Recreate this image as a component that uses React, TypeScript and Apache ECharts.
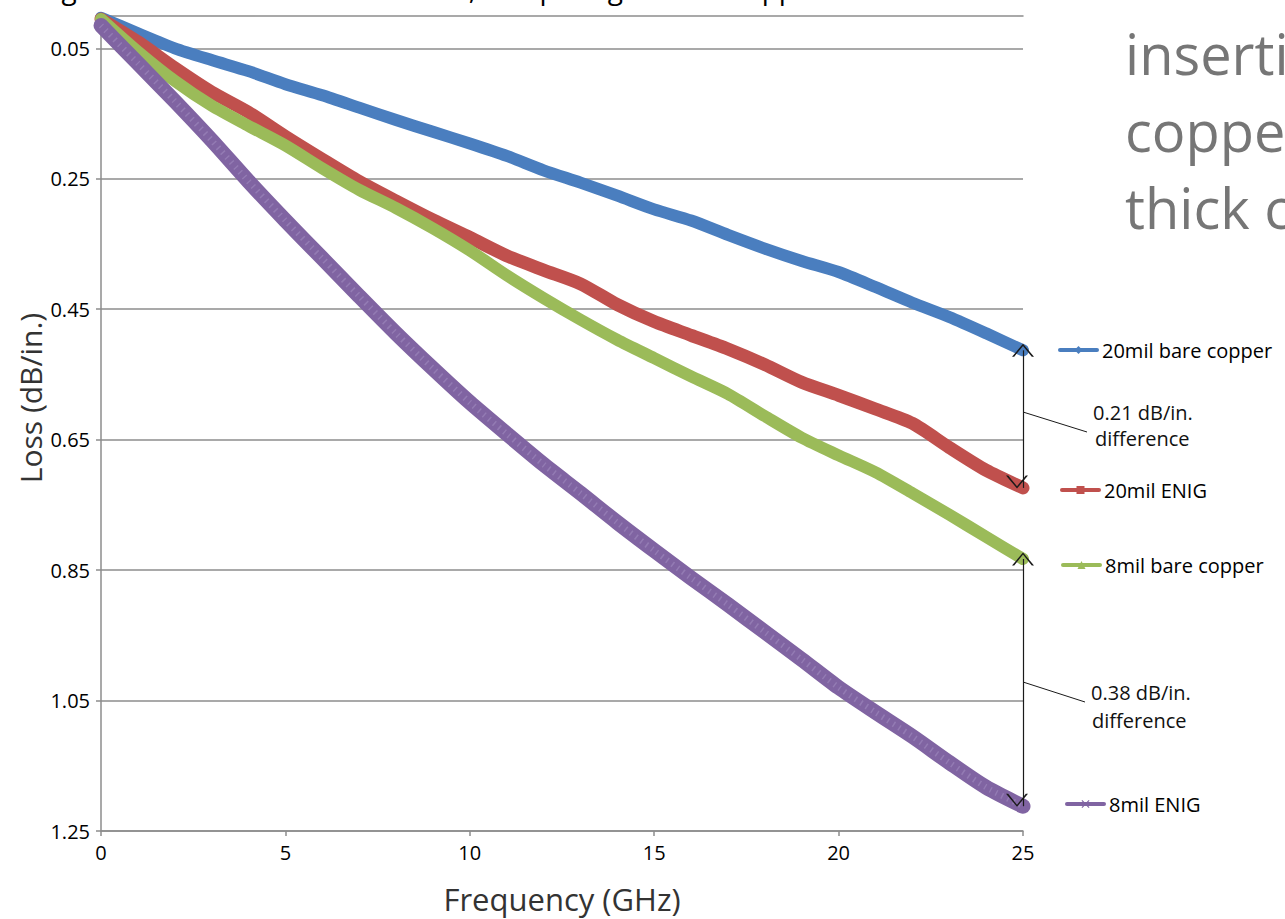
import { useEffect, useRef } from "react";
import * as echarts from "echarts";

// Frequency sweep (GHz) and per-inch loss (dB/in.) for each trace type
const FREQ_GHZ = [0, 1, 2, 3, 4, 5, 6, 7, 8, 9, 10, 11, 12, 13, 14, 15, 16, 17, 18, 19, 20, 21, 22, 23, 24, 25];
const BARE_20MIL = [0.003, 0.027, 0.05, 0.068, 0.085, 0.105, 0.122, 0.141, 0.16, 0.178, 0.196, 0.215, 0.237, 0.256, 0.276, 0.297, 0.314, 0.336, 0.357, 0.376, 0.393, 0.416, 0.44, 0.462, 0.487, 0.513];
const ENIG_20MIL = [0.005, 0.04, 0.08, 0.117, 0.148, 0.185, 0.22, 0.254, 0.284, 0.313, 0.34, 0.368, 0.39, 0.411, 0.443, 0.469, 0.49, 0.511, 0.535, 0.562, 0.582, 0.603, 0.625, 0.662, 0.697, 0.724];
const BARE_8MIL = [0.005, 0.055, 0.1, 0.138, 0.169, 0.199, 0.234, 0.267, 0.295, 0.326, 0.36, 0.398, 0.433, 0.466, 0.497, 0.525, 0.553, 0.58, 0.614, 0.647, 0.674, 0.7, 0.732, 0.765, 0.799, 0.833];
const ENIG_8MIL = [0.015, 0.073, 0.131, 0.191, 0.254, 0.314, 0.372, 0.43, 0.487, 0.541, 0.593, 0.641, 0.688, 0.732, 0.777, 0.82, 0.862, 0.903, 0.945, 0.987, 1.03, 1.068, 1.105, 1.145, 1.183, 1.212];

const SERIES_NAMES = ["20mil bare copper", "20mil ENIG", "8mil bare copper", "8mil ENIG"];
const Y_TICKS = [0.05, 0.25, 0.45, 0.65, 0.85, 1.05, 1.25];
const X_TICKS_STEP = 5;

const FONT = '"Open Sans", "Noto Sans", sans-serif';
const GRID_GRAY = "#8c8c8c";
const COLORS = ["#4a7ebf", "#c0504d", "#9bbb59", "#8064a2"];
const WIDTHS = [12, 13, 12, 15];

// thin open "V" arrow head, tip pointing up
const ARROW_HEAD = "path://M5,0 L10,10 L9,10 L5,1.6 L1,10 L0,10 Z";
const DIAMOND = "path://M5,0 L10,5 L5,10 L0,5 Z";
const CROSS = "path://M0,1 L1,0 L5,4 L9,0 L10,1 L6,5 L10,9 L9,10 L5,6 L1,10 L0,9 L4,5 Z";
const SYMBOLS = [DIAMOND, "rect", "triangle", CROSS];

const last = (a: number[]) => a[a.length - 1];

export default function App() {
  const ref = useRef<HTMLDivElement>(null);

  useEffect(() => {
    if (!ref.current) return;
    const chart = echarts.init(ref.current, null, { renderer: "svg" });

    const seriesValues = [BARE_20MIL, ENIG_20MIL, BARE_8MIL, ENIG_8MIL];
    const diff20 = (last(ENIG_20MIL) - last(BARE_20MIL)).toFixed(2);
    const diff8 = (last(ENIG_8MIL) - last(BARE_8MIL)).toFixed(2);
    const xEnd = last(FREQ_GHZ);

    const legendPlace = [
      { left: 1058, cy: 352 },
      { left: 1060, cy: 492 },
      { left: 1061, cy: 567 },
      { left: 1065, cy: 806 },
    ];

    const series: any[] = seriesValues.map((vals, i) => ({
      name: SERIES_NAMES[i],
      type: "line",
      data: FREQ_GHZ.map((f, k) => [f, vals[k]]),
      symbol: SYMBOLS[i],
      symbolSize: 9,
      showSymbol: false,
      smooth: 0.25,
      clip: false,
      color: COLORS[i],
      lineStyle: { width: WIDTHS[i], color: COLORS[i], cap: "round", join: "round" },
      emphasis: { disabled: true },
      silent: true,
    }));

    // faint streaks left by the dense "x" markers of the 8mil ENIG trace
    series.push({
      name: SERIES_NAMES[3],
      type: "line",
      data: FREQ_GHZ.map((f, k) => [f, ENIG_8MIL[k]]),
      showSymbol: false,
      smooth: 0.25,
      clip: false,
      lineStyle: { width: 6, color: "rgba(205,190,230,0.25)", type: [1.5, 5], cap: "butt" },
      emphasis: { disabled: true },
      silent: true,
    });

    // double-headed arrows marking the end-point differences
    series[0].markLine = {
      silent: true,
      symbol: [ARROW_HEAD, ARROW_HEAD],
      symbolSize: [22, 13],
      symbolOffset: [0, 6],
      label: { show: false },
      lineStyle: { color: "#1a1a1a", width: 1.2, type: "solid" },
      emphasis: { disabled: true },
      data: [
        [{ coord: [xEnd, last(BARE_20MIL)] }, { coord: [xEnd, last(ENIG_20MIL)] }],
        [{ coord: [xEnd, last(BARE_8MIL)] }, { coord: [xEnd, last(ENIG_8MIL)] }],
      ],
    };

    const textEl = (text: string, x: number, y: number, size: number, fill: string, extra: any = {}) => ({
      type: "text",
      x,
      y,
      silent: true,
      ...extra,
      style: { text, font: `${size}px ${FONT}`, fill, verticalAlign: "middle", align: "left", ...(extra.style || {}) },
    });

    chart.setOption({
      animation: false,
      backgroundColor: "#ffffff",
      grid: { left: 101, right: 262, top: 15.7, bottom: 87.3, containLabel: false },
      xAxis: [
        {
          type: "value",
          min: 0,
          max: xEnd,
          interval: X_TICKS_STEP,
          position: "bottom",
          axisLine: { show: true, onZero: false, lineStyle: { color: GRID_GRAY, width: 1.5 } },
          axisTick: { show: true, length: 5, lineStyle: { color: GRID_GRAY, width: 1.5 } },
          axisLabel: { fontSize: 20, color: "#000", fontFamily: FONT, margin: 11 },
          splitLine: { show: false },
          name: "Frequency (GHz)",
          nameLocation: "middle",
          nameGap: 52,
          nameTextStyle: { fontSize: 31, color: "#333", fontFamily: FONT },
        },
        {
          type: "value",
          min: 0,
          max: xEnd,
          position: "top",
          axisLine: { show: true, onZero: false, lineStyle: { color: GRID_GRAY, width: 1.5 } },
          axisTick: { show: false },
          axisLabel: { show: false },
          splitLine: { show: false },
        },
      ],
      yAxis: {
        type: "value",
        inverse: true,
        min: 0,
        max: 1.25,
        axisLine: { show: true, lineStyle: { color: GRID_GRAY, width: 1.5 } },
        axisTick: { show: true, length: 5, customValues: Y_TICKS, lineStyle: { color: GRID_GRAY, width: 1.5 } },
        axisLabel: {
          customValues: Y_TICKS,
          formatter: (v: number) => v.toFixed(2),
          fontSize: 20,
          color: "#000",
          fontFamily: FONT,
          margin: 11,
        },
        splitLine: { show: true, lineStyle: { color: GRID_GRAY, width: 1.5 } },
      },
      legend: SERIES_NAMES.map((name, i) => ({
        data: [name],
        left: legendPlace[i].left,
        top: legendPlace[i].cy - 12,
        padding: 0,
        itemWidth: 37,
        itemHeight: 10,
        itemGap: 10,
        selectedMode: false,
        lineStyle: { width: 4 },
        textStyle: { fontSize: 20, color: "#000", fontFamily: FONT },
      })),
      graphic: [
        textEl("Loss (dB/in.)", 30, 398, 30, "#333", {
          rotation: Math.PI / 2,
          style: { align: "center" },
        }),
        textEl(`${diff20} dB/in.`, 1093, 412, 20, "#111"),
        textEl("difference", 1095, 438, 20, "#111"),
        textEl(`${diff8} dB/in.`, 1091, 692, 20, "#111"),
        textEl("difference", 1092, 720, 20, "#111"),
        { type: "line", silent: true, shape: { x1: 1023, y1: 412, x2: 1087, y2: 432 }, style: { stroke: "#1a1a1a", lineWidth: 1 } },
        { type: "line", silent: true, shape: { x1: 1023, y1: 682, x2: 1085, y2: 702 }, style: { stroke: "#1a1a1a", lineWidth: 1 } },
        textEl("inserti", 1125, 53, 56, "#767676"),
        textEl("coppe", 1125, 130, 56, "#767676"),
        textEl("thick c", 1125, 207, 56, "#767676"),
        textEl("Figure 3: Insertion loss with ENIG, comparing to bare copper", 40, -12, 28, "#000"),
      ],
      series,
    });

    return () => chart.dispose();
  }, []);

  return <div ref={ref} style={{ position: "fixed", left: 0, top: 0, width: 1285, height: 919 }} />;
}
